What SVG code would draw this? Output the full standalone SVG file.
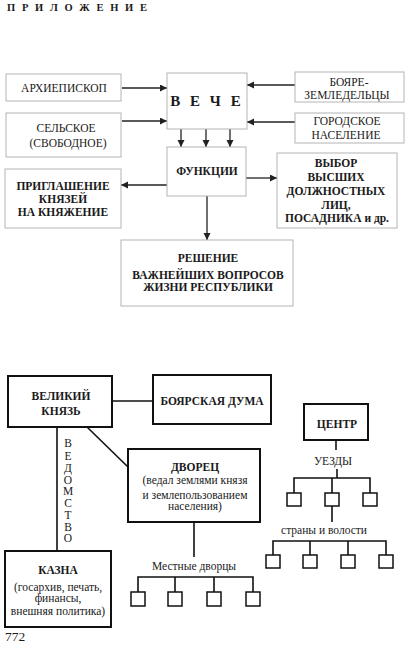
<svg xmlns="http://www.w3.org/2000/svg" width="409" height="648" viewBox="0 0 409 648" font-family="'Liberation Serif', 'DejaVu Serif', serif">
<defs>
<marker id="arr" markerUnits="userSpaceOnUse" markerWidth="8" markerHeight="8" refX="7" refY="3.5" orient="auto">
<path d="M0,0 L7,3.5 L0,7 Z" fill="#222"/>
</marker>
<style>
text{font-family:'Liberation Serif','DejaVu Serif',serif;fill:#1a1a1a;text-anchor:middle}
.b{font-weight:bold}
.r{font-size:11.5px}
.bt{font-size:11.5px;font-weight:bold}
.fbox{fill:#fff;stroke:#b4b4b4;stroke-width:1}
.kbox{fill:#fff;stroke:#111;stroke-width:2}
.sbox{fill:#fff;stroke:#111;stroke-width:1.5}
.arrow{stroke:#222;stroke-width:1.3;fill:none;marker-end:url(#arr)}
.ln{stroke:#111;stroke-width:1.6;fill:none}
</style>
</defs>
<rect width="409" height="648" fill="#fff"/>
<text x="77" y="11" class="b" style="font-size:10.5px" textLength="140" lengthAdjust="spacing">П Р И Л О Ж Е Н И Е</text>

<g id="connectors">
<line class="arrow" x1="122" y1="88" x2="167" y2="88"/>
<line class="arrow" x1="122" y1="121" x2="167" y2="121"/>
<line class="arrow" x1="295" y1="85" x2="247" y2="85"/>
<line class="arrow" x1="295" y1="122" x2="247" y2="122"/>
<line class="arrow" x1="181" y1="129" x2="181" y2="147"/>
<line class="arrow" x1="206" y1="129" x2="206" y2="147"/>
<line class="arrow" x1="230" y1="129" x2="230" y2="147"/>
<line class="arrow" x1="167" y1="185" x2="121" y2="185"/>
<line class="arrow" x1="246" y1="178" x2="277" y2="178"/>
<line class="arrow" x1="207" y1="196" x2="207" y2="240"/>
<line class="ln" x1="112" y1="401" x2="153" y2="401"/>
<line class="ln" x1="87" y1="427" x2="128" y2="467"/>
<line class="ln" x1="57" y1="427" x2="57" y2="551"/>
<line class="ln" x1="336" y1="440" x2="336" y2="450"/>
<line class="ln" x1="337" y1="469" x2="337" y2="478"/>
<path class="ln" d="M294,493 V478 H370 V493 M332,478 V493"/>
<line class="ln" x1="332" y1="506" x2="332" y2="522"/>
<path class="ln" d="M273,555 V541 H386 V555 M310,541 V555 M348,541 V555"/>
<line class="ln" x1="194" y1="522" x2="194" y2="557"/>
<path class="ln" d="M138,592 V577 H253 V592 M175,577 V592 M214,577 V592"/>
</g>

<g id="arhiepiskop"><rect class="fbox" x="6" y="74" width="115" height="27"/><text class="r" x="64" y="92">АРХИЕПИСКОП</text></g>
<g id="selskoe"><rect class="fbox" x="6" y="113" width="115" height="44"/><text class="r" x="66" y="132">СЕЛЬСКОЕ</text><text class="r" x="68" y="147">(СВОБОДНОЕ)</text></g>
<g id="veche"><rect class="fbox" x="167" y="73" width="80" height="56"/><text x="207" y="106" class="b" style="font-size:15px;letter-spacing:3px">В Е Ч Е</text></g>
<g id="boyare"><rect class="fbox" x="295" y="72" width="109" height="30"/><text class="r" x="349" y="86">БОЯРЕ-</text><text class="r" x="347" y="99">ЗЕМЛЕДЕЛЬЦЫ</text></g>
<g id="gorodskoe"><rect class="fbox" x="295" y="113" width="109" height="30"/><text class="r" x="347" y="125">ГОРОДСКОЕ</text><text class="r" x="346" y="139">НАСЕЛЕНИЕ</text></g>
<g id="funkcii"><rect class="fbox" x="167" y="147" width="79" height="49"/><text class="bt" x="207" y="175">ФУНКЦИИ</text></g>
<g id="priglashenie"><rect class="fbox" x="5" y="169" width="116" height="59"/><text class="bt" x="63" y="190">ПРИГЛАШЕНИЕ</text><text class="bt" x="63" y="203">КНЯЗЕЙ</text><text class="bt" x="63" y="216">НА КНЯЖЕНИЕ</text></g>
<g id="vybor"><rect class="fbox" x="277" y="153" width="120" height="75"/><text class="bt" x="336" y="167">ВЫБОР</text><text class="bt" x="336" y="181">ВЫСШИХ</text><text class="bt" x="336" y="195">ДОЛЖНОСТНЫХ</text><text class="bt" x="336" y="209">ЛИЦ,</text><text class="bt" x="337" y="222">ПОСАДНИКА и др.</text></g>
<g id="reshenie"><rect class="fbox" x="121" y="240" width="172" height="66"/><text class="bt" x="208" y="262">РЕШЕНИЕ</text><text class="bt" x="208" y="279">ВАЖНЕЙШИХ ВОПРОСОВ</text><text class="bt" x="208" y="291">ЖИЗНИ РЕСПУБЛИКИ</text></g>

<g id="velikiy-knyaz"><rect class="kbox" x="8" y="376" width="104" height="51"/><text class="bt" x="61" y="400">ВЕЛИКИЙ</text><text class="bt" x="61" y="415">КНЯЗЬ</text></g>
<g id="boyarskaya-duma"><rect class="kbox" x="153" y="375" width="118" height="49"/><text class="bt" x="212" y="405">БОЯРСКАЯ ДУМА</text></g>
<g id="vedomstvo">
<text class="r" x="68" y="447">В</text><text class="r" x="68" y="460">Е</text><text class="r" x="68" y="472">Д</text><text class="r" x="68" y="484">О</text><text class="r" x="68" y="495">М</text><text class="r" x="68" y="507">С</text><text class="r" x="68" y="519">Т</text><text class="r" x="68" y="531">В</text><text class="r" x="68" y="542">О</text>
</g>
<g id="dvorec"><rect class="kbox" x="128" y="449" width="132" height="73"/><text class="bt" x="195" y="471">ДВОРЕЦ</text><text class="r" x="195" y="484">(ведал землями князя</text><text class="r" x="195" y="499">и землепользованием</text><text class="r" x="195" y="510">населения)</text></g>
<g id="kazna"><rect class="kbox" x="5" y="551" width="106" height="76"/><text class="bt" x="58" y="574">КАЗНА</text><text class="r" x="58" y="591">(госархив, печать,</text><text class="r" x="58" y="602">финансы,</text><text class="r" x="58" y="615">внешняя политика)</text></g>
<g id="centr"><rect class="kbox" x="304" y="404" width="64" height="36"/><text class="bt" x="337" y="428">ЦЕНТР</text></g>
<g id="uezdy-label"><text class="r" x="333" y="465">УЕЗДЫ</text></g>
<g id="uezdy"><rect class="sbox" x="287" y="493" width="14" height="13"/><rect class="sbox" x="325" y="493" width="14" height="13"/><rect class="sbox" x="363" y="493" width="14" height="13"/></g>
<g id="strany-label"><text class="r" x="324" y="534">страны и волости</text></g>
<g id="strany"><rect class="sbox" x="266" y="555" width="14" height="13"/><rect class="sbox" x="303" y="555" width="14" height="13"/><rect class="sbox" x="341" y="555" width="14" height="13"/><rect class="sbox" x="379" y="555" width="14" height="13"/></g>
<g id="mestnye-label"><text class="r" x="194" y="570">Местные дворцы</text></g>
<g id="mestnye"><rect class="sbox" x="131" y="592" width="14" height="14"/><rect class="sbox" x="168" y="592" width="14" height="14"/><rect class="sbox" x="207" y="592" width="14" height="14"/><rect class="sbox" x="246" y="592" width="14" height="14"/></g>
<text x="5" y="641" style="font-size:13.5px;text-anchor:start">772</text>
</svg>
